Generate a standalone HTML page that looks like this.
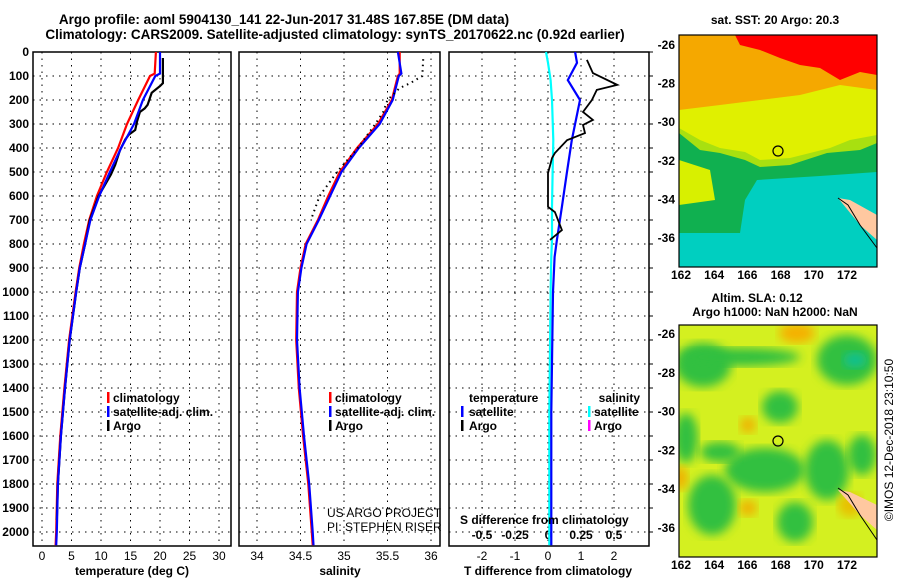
<!DOCTYPE html>
<html><head><meta charset="utf-8"><style>
body{margin:0;background:#fff}
svg text{font-family:"Liberation Sans",sans-serif;font-weight:bold;fill:#000}
</style></head><body>
<svg id="fig" width="900" height="580" viewBox="0 0 900 580" xmlns="http://www.w3.org/2000/svg">
<text x="284" y="24" font-size="13.5" text-anchor="middle">Argo profile: aoml 5904130_141 22-Jun-2017 31.48S 167.85E (DM data)</text>
<text x="335" y="39" font-size="13.5" text-anchor="middle">Climatology: CARS2009. Satellite-adjusted climatology: synTS_20170622.nc (0.92d earlier)</text>
<g id="maps"></g>
<g id="plots"></g>
</svg>
<script>
// ===== profile data (depth in m) =====
const tDepthArgo=[25,130,142,170,220,235,250,290,325,345,365,410,470,510,600,700,800,900,1000,1200,1400,1600,1800,1950];
const tArgo=[20.5,20.5,20.0,18.6,17.9,17.4,16.6,16.1,15.8,14.7,14.1,13.2,12.4,11.7,9.6,8.1,7.3,6.4,5.8,4.7,3.9,3.2,2.7,2.5];
const climDepth=[0,90,100,200,300,400,500,600,700,800,900,1000,1200,1400,1600,1800,2000,2055];
const tClim=[19.3,19.1,18.3,16.3,14.4,12.9,11.0,9.3,8.0,7.1,6.3,5.7,4.6,3.8,3.1,2.6,2.4,2.3];
const tSat=[20.0,20.0,19.2,17.1,15.6,13.4,11.5,9.7,8.2,7.3,6.4,5.8,4.7,3.9,3.2,2.7,2.5,2.4];
const sClim=[35.64,35.64,35.62,35.55,35.39,35.15,34.95,34.82,34.70,34.56,34.50,34.46,34.45,34.48,34.53,34.59,34.63,34.64];
const sSat=[35.62,35.66,35.63,35.56,35.41,35.17,34.97,34.84,34.71,34.57,34.51,34.47,34.46,34.49,34.54,34.60,34.64,34.65];
const sDepthArgo=[30,100,130,150,200,250,300,400,500,600,700];
const sArgo=[35.91,35.90,35.76,35.64,35.50,35.45,35.36,35.16,34.92,34.72,34.62];
const dDepth=[0,45,117,200,367,505,645,783,854,1000,1500,2000,2055];
const dTSat=[0.82,0.88,0.6,0.97,0.72,0.57,0.42,0.27,0.2,0.15,0.1,0.1,0.1];
const dSSat=[-0.015,0,0.02,0.03,0.04,0.035,0.03,0.03,0.025,0.02,0.01,0.01,0.01];
const dTDepthArgo=[33,88,137,158,200,250,283,304,338,367,421,442,505,645,667,742,783];
const dTArgo=[1.18,1.36,2.1,1.48,1.33,1.06,1.36,1.06,1.12,0.58,0.21,0.12,0,0,0.21,0.42,0.06];
const depthTicks=[0,100,200,300,400,500,600,700,800,900,1000,1100,1200,1300,1400,1500,1600,1700,1800,1900,2000];
const tTicks=[0,5,10,15,20,25,30];
const sTicks=[34,34.5,35,35.5,36];
const sTickLabels=["34","34.5","35","35.5","36"];
const dTicks=[-2,-1,0,1,2];
const dSTicks=[-0.5,-0.25,0,0.25,0.5];
const dSTickLabels=["-0.5","-0.25","0","0.25","0.5"];
const lonTicks=[162,164,166,168,170,172];
const latTicks=[-26,-28,-30,-32,-34,-36];

const NS="http://www.w3.org/2000/svg";
const plots=document.getElementById('plots');
function mk(tag,attrs,parent){const e=document.createElementNS(NS,tag);for(const k in attrs)e.setAttribute(k,attrs[k]);(parent||plots).appendChild(e);return e;}
const Y=d=>52+d*0.24;
const xT=v=>42+v*5.9;
const xS=v=>257+(v-34)*87;
const xD=v=>548+v*33;
const xDS=v=>548+v*132;
const PT=52,PB=546;
const panels=[{l:33,r:231},{l:239,r:440},{l:449,r:649}];

// frames and grids
panels.forEach((p,i)=>{
  const f=mk('rect',{x:p.l,y:PT,width:p.r-p.l,height:PB-PT,fill:'none',stroke:'#000','stroke-width':1.5});
  
  
  depthTicks.forEach(d=>{
    const g=mk('line',{x1:p.l,x2:p.r,y1:Y(d),y2:Y(d),stroke:'#000','stroke-width':1,'stroke-dasharray':'1.5,5'});
    
    
    if(i===2){const t=mk('line',{x1:p.r,x2:p.r+4,y1:Y(d),y2:Y(d),stroke:'#000'});}
  });
});
depthTicks.forEach(d=>{
  const t=mk('text',{x:29,y:Y(d)+4,'font-size':12,'text-anchor':'end'});t.textContent=d;
  
  
});
function vgrid(ticks,fx,labels,ly,fs){
  ticks.forEach((v,i)=>{
    const g=mk('line',{x1:fx(v),x2:fx(v),y1:PT,y2:PB,stroke:'#000','stroke-dasharray':'1.5,5'});
    
    
    const t=mk('text',{x:fx(v),y:ly,'font-size':fs||12,'text-anchor':'middle',style:'font-weight:normal'});t.textContent=labels?labels[i]:v;
    
    
  });
}
vgrid(tTicks,xT,null,560);
vgrid(sTicks,xS,sTickLabels,560);
vgrid(dTicks,xD,null,560);
dSTicks.forEach((v,i)=>{const t=mk('text',{x:xDS(v),y:539,'font-size':12,'text-anchor':'middle'});t.textContent=dSTickLabels[i];});

function line(xs,ds,fx,color,name,w,dash){
  const pts=xs.map((v,i)=>fx(v).toFixed(1)+','+Y(ds[i]).toFixed(1)).join(' ');
  const a={points:pts,fill:'none',stroke:color,'stroke-width':w||2};
  if(dash)a['stroke-dasharray']=dash;
  const e=mk('polyline',a);
  
  
}
line(tClim,climDepth,xT,'#f00','temp-climatology-line',2.2);
line(tArgo,tDepthArgo,xT,'#000','temp-argo-line',2.2);
line(tSat,climDepth,xT,'#00f','temp-satellite-line',2.2);
line(sClim,climDepth,xS,'#f00','sal-climatology-line',2.2);
line(sSat,climDepth,xS,'#00f','sal-satellite-line',2.2);
line(sArgo,sDepthArgo,xS,'#000','sal-argo-line',2,'1.5,4');
line(dSSat,dDepth,xDS,'#0ff','sdiff-satellite-line',2.2);
line(dTSat,dDepth,xD,'#00f','tdiff-satellite-line',2.2);
line(dTArgo,dTDepthArgo,xD,'#000','tdiff-argo-line',1.8);

function txt(x,y,s,name,opts){const a=Object.assign({x:x,y:y,'font-size':12},opts||{});const t=mk('text',a);t.textContent=s;return t;}
function mark(x,y,c,name){const e=mk('rect',{x:x,y:y-10,width:2.5,height:11,fill:c});}
// legends
[[107,113],[329,335]].forEach((p,i)=>{
  mark(p[0],402,'#f00','legend-climatology-mark');txt(p[1],402,'climatology','legend-climatology');
  mark(p[0],416,'#00f','legend-satellite-mark');txt(p[1],416,'satellite-adj. clim.','legend-satellite');
  mark(p[0],430,'#000','legend-argo-mark');txt(p[1],430,'Argo','legend-argo');
});
txt(469,402,'temperature','legend-temperature-header');
mark(461,416,'#00f','legend-t-satellite-mark');txt(469,416,'satellite','legend-t-satellite');
mark(461,430,'#000','legend-t-argo-mark');txt(469,430,'Argo','legend-t-argo');
txt(640,402,'salinity','legend-salinity-header',{'text-anchor':'end'});
mark(588,416,'#0ff','legend-s-satellite-mark');txt(594,416,'satellite','legend-s-satellite');
mark(588,430,'#f0f','legend-s-argo-mark');txt(594,430,'Argo','legend-s-argo');
txt(327,517,'US ARGO PROJECT','project-label',{style:'font-weight:normal'});
txt(327,531,'PI: STEPHEN RISER','pi-label',{style:'font-weight:normal'});
txt(460,524,'S difference from climatology','s-diff-axis-title');
txt(132,575,'temperature (deg C)','x-axis-title-temperature',{'text-anchor':'middle'});
txt(340,575,'salinity','x-axis-title-salinity',{'text-anchor':'middle'});
txt(548,575,'T difference from climatology','x-axis-title-tdiff',{'text-anchor':'middle'});

// ===== maps =====
const maps=document.getElementById('maps');
function mm(tag,attrs,name){const e=mk(tag,attrs,maps);return e;}
const ML=679,MR=877;
const lonX=v=>681+(v-162)*16.6;
// top map
const T0=35,T1=267;const latT=v=>45+(-26-v)*19.3;
mm('defs',{},'defs').innerHTML='<clipPath id="c1"><rect x="679" y="35" width="198" height="232"/></clipPath><clipPath id="c2"><rect x="679" y="325" width="198" height="232"/></clipPath><filter id="bl"><feGaussianBlur stdDeviation="5"/></filter>';
const g1=mm('g',{'clip-path':'url(#c1)'},'sst-map');
function poly(g,pts,fill,name){const e=mk('polygon',{points:pts,fill:fill},g);}
poly(g1,'679,35 877,35 877,267 679,267','#00cfc0','sst-cyan');
poly(g1,'679,35 877,35 877,172 820,176 757,180 745,200 740,233 679,233','#10b050','sst-green');
poly(g1,'679,35 877,35 877,143 860,150 827,153 790,165 760,167 745,160 720,153 700,150 679,133','#a8e010','sst-lightgreen');
poly(g1,'679,35 877,35 877,135 850,140 830,148 790,158 760,160 745,152 720,148 700,140 679,128','#e0f000','sst-yellow');
poly(g1,'679,160 710,170 715,200 679,205','#d8f000','sst-yellow-left');
poly(g1,'679,35 877,35 877,90 840,85 800,95 760,100 720,105 679,110','#f5a800','sst-orange');
poly(g1,'735,35 877,35 877,75 860,72 840,80 820,68 800,65 780,58 760,50 740,45','#ff0000','sst-red');
poly(g1,'770,240 800,235 830,255 790,262','#00cfc0','sst-cyan-patch');
poly(g1,'838,198 850,200 877,215 877,240 860,225','#ffc8a0','sst-land');
mm('polyline',{points:'838,198 848,205 860,225 877,248',fill:'none',stroke:'#000'},'sst-coastline');
mm('circle',{cx:778,cy:151,r:5,fill:'none',stroke:'#000','stroke-width':1.2},'sst-argo-marker');
mm('rect',{x:ML,y:T0,width:MR-ML,height:T1-T0,fill:'none',stroke:'#000','stroke-width':1.2},'sst-map-frame');
// bottom map
const B0=325,B1=557;const latB=v=>334+(-26-v)*19.4;
const g2=mm('g',{'clip-path':'url(#c2)'},'sla-map');
mk('rect',{x:679,y:325,width:198,height:232,fill:'#d4f020'},g2);
const blobs=[[703,365,28,22,'#30c040'],[740,357,60,9,'#30c040'],[780,407,18,16,'#30c040'],[847,360,30,25,'#30c040'],[855,360,12,8,'#10c090'],[686,438,12,25,'#30c040'],[765,470,40,22,'#30c040'],[827,470,22,30,'#30c040'],[712,505,24,30,'#30c040'],[862,455,14,20,'#30c040'],[795,522,18,20,'#30c040'],[720,452,20,10,'#30c040']];
const spots=[[797,333,18,10,'#f5b000'],[748,425,8,8,'#f0b000'],[680,478,8,12,'#f0b000'],[748,508,9,8,'#f0b000'],[850,505,12,12,'#e8c000']];
blobs.concat(spots).forEach(b=>{const e=mk('ellipse',{cx:b[0],cy:b[1],rx:b[2],ry:b[3],fill:b[4],filter:'url(#bl)'},g2);});
poly(g2,'838,490 850,492 877,505 877,530 860,515','#ffc8a0','sla-land');
mm('polyline',{points:'838,488 848,495 860,515 877,540',fill:'none',stroke:'#000'},'sla-coastline');
mm('circle',{cx:778,cy:441,r:5,fill:'none',stroke:'#000','stroke-width':1.2},'sla-argo-marker');
mm('rect',{x:ML,y:B0,width:MR-ML,height:B1-B0,fill:'none',stroke:'#000','stroke-width':1.2},'sla-map-frame');
// map ticks
[[T1,latT,279],[B1,latB,569]].forEach(m=>{
  lonTicks.forEach(v=>{
    const t=mk('text',{x:lonX(v),y:m[2],'font-size':12,'text-anchor':'middle'},maps);t.textContent=v;
    
  });
  latTicks.forEach(v=>{
    const t=mk('text',{x:675,y:m[1](v)+4,'font-size':12,'text-anchor':'end'},maps);t.textContent=v;
    
  });
});
function mt(x,y,s,name,extra){const t=mk('text',Object.assign({x:x,y:y,'font-size':12,'text-anchor':'middle'},extra||{}),maps);t.textContent=s;}
mt(775,24,'sat. SST: 20 Argo: 20.3','sst-map-title');
mt(757,302,'Altim. SLA: 0.12','sla-map-title');
mt(775,316,'Argo h1000: NaN h2000: NaN','sla-map-subtitle');
mt(893,440,'©IMOS 12-Dec-2018 23:10:50','imos-timestamp',{transform:'rotate(-90 893 440)',style:'font-weight:normal'});
</script>
</body></html>
